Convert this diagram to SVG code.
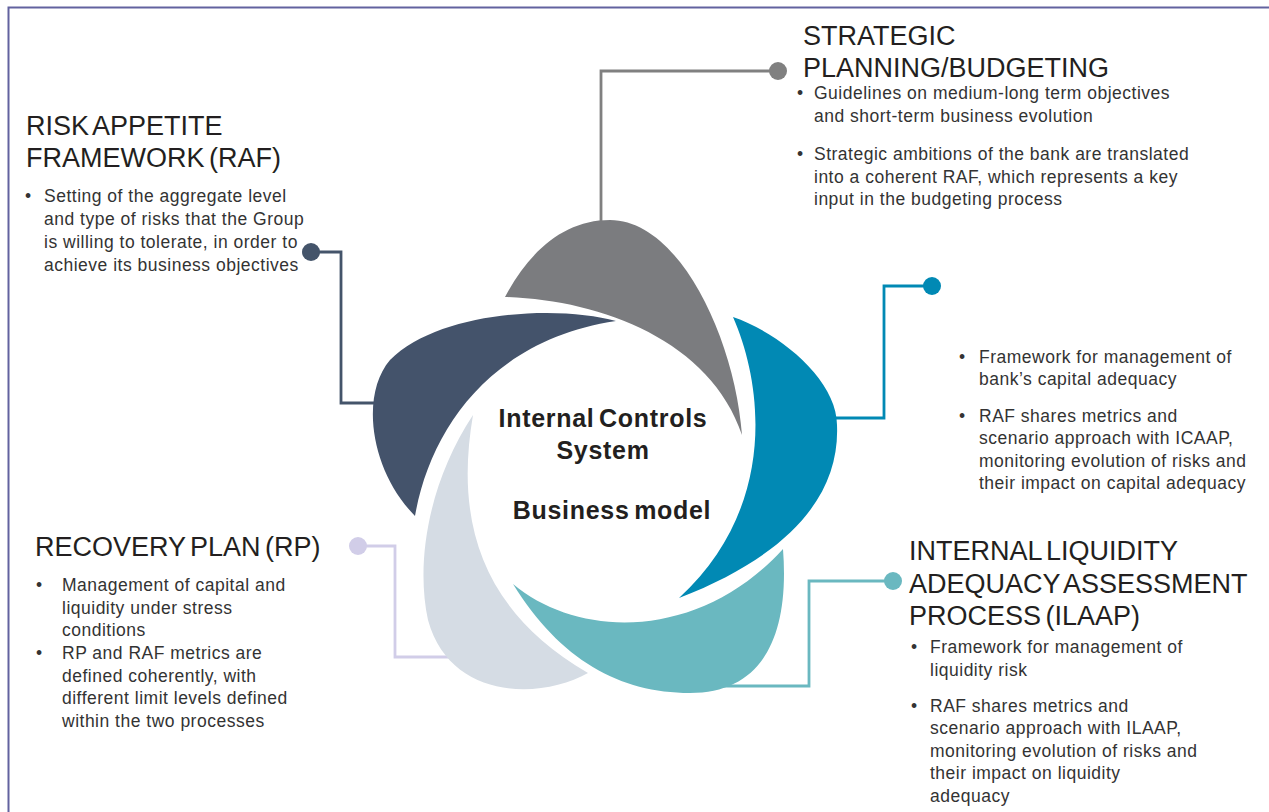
<svg xmlns="http://www.w3.org/2000/svg" width="1269" height="812" viewBox="0 0 1269 812">
<style>
.title{font-family:"Liberation Sans",Arial,sans-serif;font-size:27px;fill:#231f20;word-spacing:-3px}
.body{font-family:"Liberation Sans",Arial,sans-serif;font-size:17.5px;fill:#333333;letter-spacing:0.5px}
.center{font-family:"Liberation Sans",Arial,sans-serif;font-size:25px;font-weight:bold;fill:#231f20;letter-spacing:0.7px;word-spacing:-3px;text-anchor:middle}
.conn{fill:none;stroke-width:2.8}
</style>
<rect width="1269" height="812" fill="#ffffff"/>
<path d="M8.5,812 V7.5 H1269" fill="none" stroke="#62629f" stroke-width="2"/>

<g id="connectors">
  <path class="conn" d="M778,71 H601 V230" stroke="#808080"/>
  <circle cx="778" cy="71" r="9" fill="#808080"/>
  <path class="conn" d="M311,252 H341 V403 H382" stroke="#44546a"/>
  <circle cx="311" cy="252" r="9" fill="#44546a"/>
  <path class="conn" d="M932,286 H884 V418 H828" stroke="#0189b4"/>
  <circle cx="932" cy="286" r="9" fill="#0189b4"/>
  <path class="conn" d="M893,581 H809 V686 H715" stroke="#6ab8c0"/>
  <circle cx="893" cy="581" r="9" fill="#6ab8c0"/>
  <path class="conn" d="M358,546 H395 V657 H452" stroke="#d1cde8"/>
  <circle cx="358" cy="546" r="9" fill="#d1cde8"/>
</g>

<g id="strategic-planning">
  <path d="M505,297 C600,300 710,340 742,435 C735,340 680,220 610,220 C565,220 530,250 505,297 Z" fill="#7b7c7f"/>
  <text class="title"><tspan x="803" y="45">STRATEGIC</tspan><tspan x="803" y="77">PLANNING/BUDGETING</tspan></text>
  <text class="body"><tspan x="797" y="99">•</tspan><tspan x="797" y="160">•</tspan></text>
  <text class="body"><tspan x="814" y="99">Guidelines on medium-long term objectives</tspan><tspan x="814" y="122">and short-term business evolution</tspan><tspan x="814" y="160">Strategic ambitions of the bank are translated</tspan><tspan x="814" y="182.5">into a coherent RAF, which represents a key</tspan><tspan x="814" y="205">input in the budgeting process</tspan></text>
</g>

<g id="icaap">
  <path d="M733,317 C765,390 775,510 679,598 C790,555 840,495 837,425 C837,380 780,333 733,317 Z" fill="#0189b4"/>
  <text class="body"><tspan x="959" y="362.5">•</tspan><tspan x="959" y="421.5">•</tspan></text>
  <text class="body"><tspan x="979" y="362.5">Framework for management of</tspan><tspan x="979" y="385">bank’s capital adequacy</tspan><tspan x="979" y="421.5">RAF shares metrics and</tspan><tspan x="979" y="444">scenario approach with ICAAP,</tspan><tspan x="979" y="466.5">monitoring evolution of risks and</tspan><tspan x="979" y="489">their impact on capital adequacy</tspan></text>
</g>

<g id="ilaap">
  <path d="M513,584 C580,640 700,640 783,549 C790,640 760,693 690,693 C620,693 560,660 513,584 Z" fill="#6ab8c0"/>
  <text class="title"><tspan x="909" y="560">INTERNAL LIQUIDITY</tspan><tspan x="909" y="592.5">ADEQUACY ASSESSMENT</tspan><tspan x="909" y="624.5">PROCESS (ILAAP)</tspan></text>
  <text class="body"><tspan x="911" y="653">•</tspan><tspan x="911" y="711.5">•</tspan></text>
  <text class="body"><tspan x="930" y="653">Framework for management of</tspan><tspan x="930" y="676">liquidity risk</tspan><tspan x="930" y="711.5">RAF shares metrics and</tspan><tspan x="930" y="734">scenario approach with ILAAP,</tspan><tspan x="930" y="756.5">monitoring evolution of risks and</tspan><tspan x="930" y="779">their impact on liquidity</tspan><tspan x="930" y="801.5">adequacy</tspan></text>
</g>

<g id="recovery-plan">
  <path d="M473,415 C455,520 480,610 588,673 C540,700 450,700 428,620 C415,560 430,480 473,415 Z" fill="#d5dce4"/>
  <text class="title"><tspan x="35" y="556">RECOVERY PLAN (RP)</tspan></text>
  <text class="body"><tspan x="36" y="591">•</tspan><tspan x="36" y="659">•</tspan></text>
  <text class="body"><tspan x="62" y="591">Management of capital and</tspan><tspan x="62" y="613.5">liquidity under stress</tspan><tspan x="62" y="636">conditions</tspan><tspan x="62" y="659">RP and RAF metrics are</tspan><tspan x="62" y="681.5">defined coherently, with</tspan><tspan x="62" y="704">different limit levels defined</tspan><tspan x="62" y="726.5">within the two processes</tspan></text>
</g>

<g id="risk-appetite-framework">
  <path d="M415,516 C430,430 490,340 616,321 C560,305 440,310 390,360 C360,395 370,470 415,516 Z" fill="#44536b"/>
  <text class="title"><tspan x="26" y="135">RISK APPETITE</tspan><tspan x="26" y="167">FRAMEWORK (RAF)</tspan></text>
  <text class="body"><tspan x="25" y="202">•</tspan></text>
  <text class="body"><tspan x="44" y="202">Setting of the aggregate level</tspan><tspan x="44" y="225">and type of risks that the Group</tspan><tspan x="44" y="248">is willing to tolerate, in order to</tspan><tspan x="44" y="271">achieve its business objectives</tspan></text>
</g>

<g id="center">
  <text class="center"><tspan x="603" y="427">Internal Controls</tspan><tspan x="603" y="459">System</tspan><tspan x="612" y="519">Business model</tspan></text>
</g>
</svg>
